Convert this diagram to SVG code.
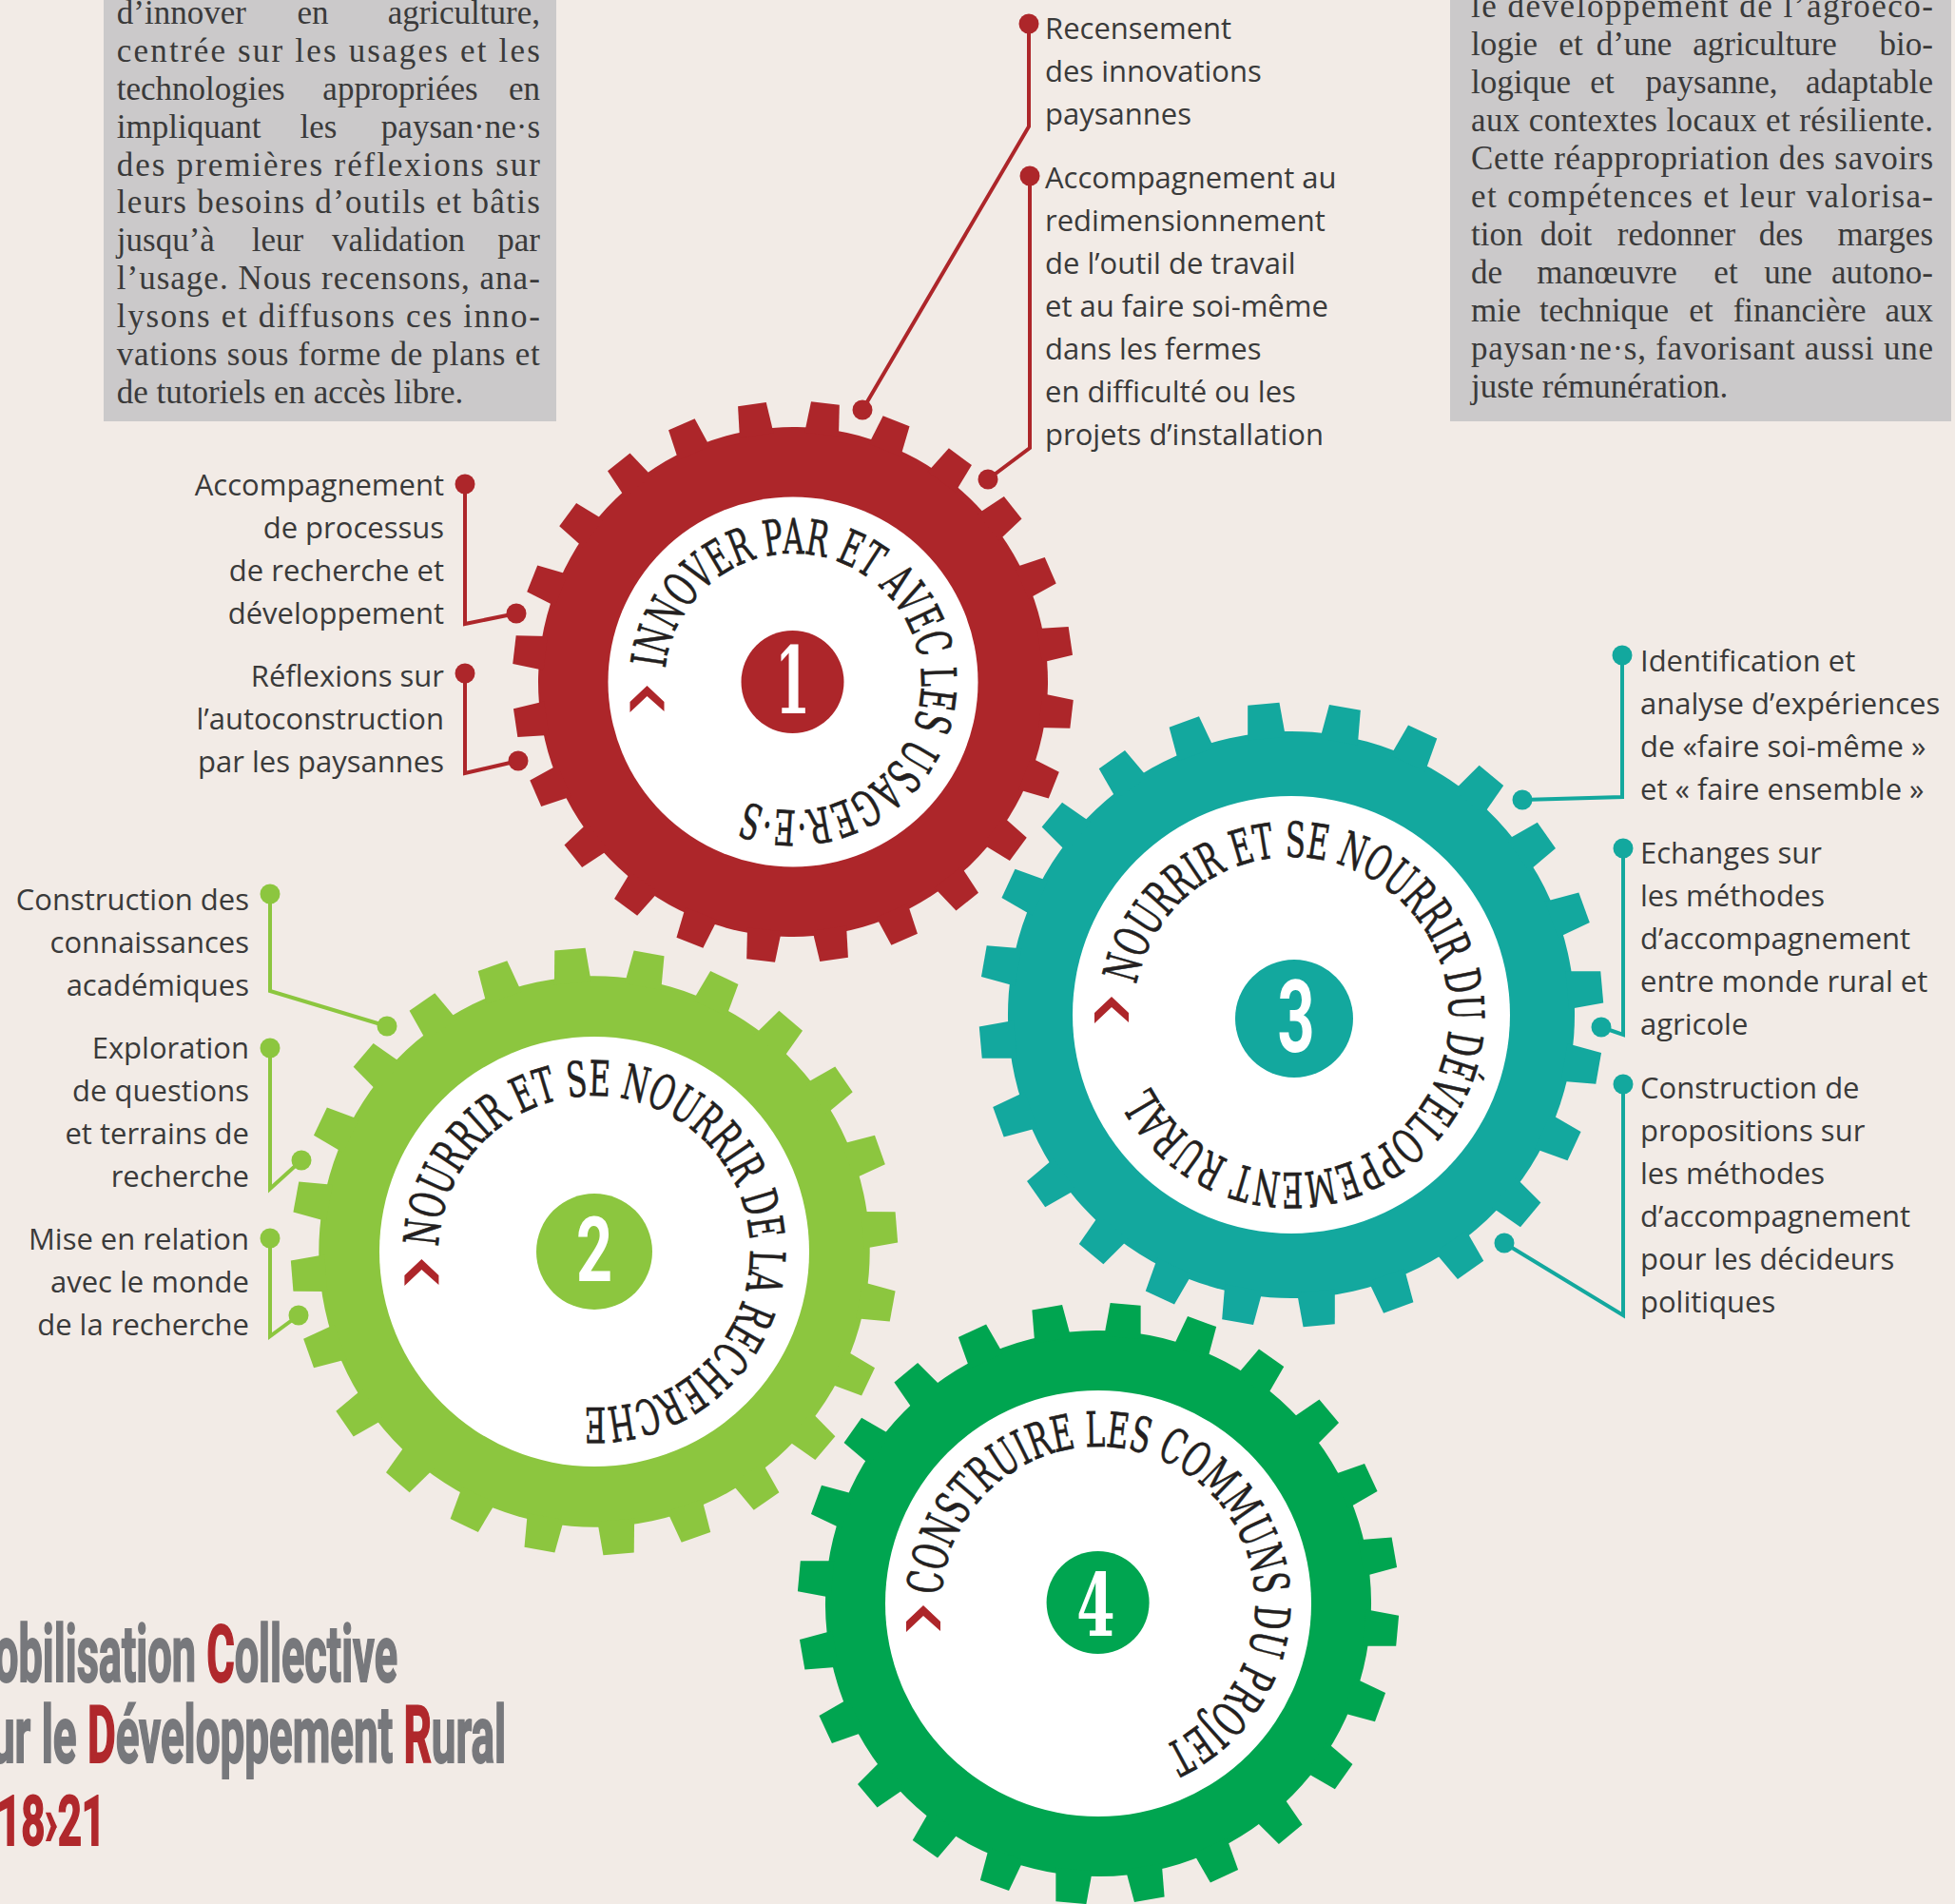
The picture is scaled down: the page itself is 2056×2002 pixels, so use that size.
<svg xmlns="http://www.w3.org/2000/svg" xmlns:xlink="http://www.w3.org/1999/xlink" width="2056" height="2002" viewBox="0 0 2056 2002">
<style>
.bg{fill:#f2ebe6}
.box{fill:#cbc9ca}
.bt{font-family:"Liberation Serif",serif;font-size:35px;fill:#3a3a3a}
.m{text-anchor:middle}
.e{text-anchor:end}
.lb{font-family:"Open Sans","Liberation Sans",sans-serif;font-size:31px;fill:#3a3a3a}
.lbe{text-anchor:end}
.ring{font-family:"DejaVu Serif","Liberation Serif",serif;font-size:51px;fill:#231f20;stroke:#231f20;stroke-width:0.7}
.nums{font-family:"DejaVu Serif","Liberation Serif",serif;font-weight:bold;fill:#fff;text-anchor:middle}
.numx{font-family:Roboto,"Liberation Sans",sans-serif;font-weight:bold;fill:#fff;text-anchor:middle}
.conn{fill:none;stroke-width:4}
.red{stroke:#ad262a}
.grn{stroke:#8cc63f}
.tea{stroke:#13a89e}
.dr{fill:#ad262a}
.dg{fill:#8cc63f}
.dt{fill:#13a89e}
.tt{font-family:Roboto,"Liberation Sans",sans-serif;font-weight:bold;font-size:84px;fill:#77787c;stroke:#77787c;stroke-width:2}
.tt2{font-family:Roboto,"Liberation Sans",sans-serif;font-weight:bold;font-size:73px;fill:#b0282c;stroke:#b0282c;stroke-width:2}
</style>
<defs>
<g id="gearShape">
<circle r="268"/>
<path id="tooth" d="M-18,-262 L18,-262 L15,-295 L-15,-295Z"/>
<use href="#tooth" transform="rotate(15)"/>
<use href="#tooth" transform="rotate(30)"/>
<use href="#tooth" transform="rotate(45)"/>
<use href="#tooth" transform="rotate(60)"/>
<use href="#tooth" transform="rotate(75)"/>
<use href="#tooth" transform="rotate(90)"/>
<use href="#tooth" transform="rotate(105)"/>
<use href="#tooth" transform="rotate(120)"/>
<use href="#tooth" transform="rotate(135)"/>
<use href="#tooth" transform="rotate(150)"/>
<use href="#tooth" transform="rotate(165)"/>
<use href="#tooth" transform="rotate(180)"/>
<use href="#tooth" transform="rotate(195)"/>
<use href="#tooth" transform="rotate(210)"/>
<use href="#tooth" transform="rotate(225)"/>
<use href="#tooth" transform="rotate(240)"/>
<use href="#tooth" transform="rotate(255)"/>
<use href="#tooth" transform="rotate(270)"/>
<use href="#tooth" transform="rotate(285)"/>
<use href="#tooth" transform="rotate(300)"/>
<use href="#tooth" transform="rotate(315)"/>
<use href="#tooth" transform="rotate(330)"/>
<use href="#tooth" transform="rotate(345)"/>
</g>
<polygon id="chev" points="-18,5 0,-12 18,5 18,15 0,-1 -18,16"/>
<path id="p1" d="M699.7,702.9 A135,135 0 1 1 783.4,842.2"/>
<path id="p2" d="M461.1,1311.1 A164,164 0 1 1 613.0,1479.6"/>
<path id="p3" d="M1195.05,1035.3 A166,166 0 1 1 1209.4,1141.1"/>
<path id="p4" d="M990.2,1677.4 A165,165 0 1 1 1222.1,1836.7"/>
</defs>

<rect class="bg" x="0" y="0" width="2056" height="2002"/>

<g id="box-left">
<rect class="box" x="109" y="0" width="476" height="443"/>
<text class="bt" y="25"><tspan x="122.8">d’innover</tspan><tspan class="m" x="329">en</tspan><tspan class="e" x="568">agriculture,</tspan></text>
<text class="bt" x="122.8" y="65" textLength="445" lengthAdjust="spacing">centrée sur les usages et les</text>
<text class="bt" y="105"><tspan x="122.8">technologies</tspan><tspan class="m" x="421">appropriées</tspan><tspan class="e" x="568">en</tspan></text>
<text class="bt" y="145"><tspan x="122.8">impliquant</tspan><tspan class="m" x="335">les</tspan><tspan class="e" x="568">paysan·ne·s</tspan></text>
<text class="bt" x="122.8" y="185" textLength="445" lengthAdjust="spacing">des premières réflexions sur</text>
<text class="bt" x="122.8" y="224" textLength="445" lengthAdjust="spacing">leurs besoins d’outils et bâtis</text>
<text class="bt" y="264"><tspan x="122.8">jusqu’à</tspan><tspan class="m" x="292">leur</tspan><tspan class="m" x="419">validation</tspan><tspan class="e" x="568">par</tspan></text>
<text class="bt" x="122.8" y="304" textLength="445" lengthAdjust="spacing">l’usage. Nous recensons, ana-</text>
<text class="bt" x="122.8" y="344" textLength="445" lengthAdjust="spacing">lysons et diffusons ces inno-</text>
<text class="bt" x="122.8" y="384" textLength="445" lengthAdjust="spacing">vations sous forme de plans et</text>
<text class="bt" x="122.8" y="424">de tutoriels en accès libre.</text>
</g>

<g id="box-right">
<rect class="box" x="1525" y="0" width="527" height="443"/>
<text class="bt" x="1547" y="18" textLength="486" lengthAdjust="spacing">le développement de l’agroéco-</text>
<text class="bt" y="58"><tspan x="1547">logie</tspan><tspan class="m" x="1652">et</tspan><tspan class="m" x="1718.5">d’une</tspan><tspan class="m" x="1856">agriculture</tspan><tspan class="e" x="2033">bio-</tspan></text>
<text class="bt" y="98"><tspan x="1547">logique</tspan><tspan class="m" x="1685">et</tspan><tspan class="m" x="1800">paysanne,</tspan><tspan class="e" x="2033">adaptable</tspan></text>
<text class="bt" x="1547" y="138" textLength="486" lengthAdjust="spacing">aux contextes locaux et résiliente.</text>
<text class="bt" x="1547" y="178" textLength="486" lengthAdjust="spacing">Cette réappropriation des savoirs</text>
<text class="bt" x="1547" y="218" textLength="486" lengthAdjust="spacing">et compétences et leur valorisa-</text>
<text class="bt" y="258"><tspan x="1547">tion</tspan><tspan class="m" x="1647">doit</tspan><tspan class="m" x="1763">redonner</tspan><tspan class="m" x="1873">des</tspan><tspan class="e" x="2033">marges</tspan></text>
<text class="bt" y="298"><tspan x="1547">de</tspan><tspan class="m" x="1690">manœuvre</tspan><tspan class="m" x="1815">et</tspan><tspan class="m" x="1880.5">une</tspan><tspan class="e" x="2033">autono-</tspan></text>
<text class="bt" y="338"><tspan x="1547">mie</tspan><tspan class="m" x="1687">technique</tspan><tspan class="m" x="1789">et</tspan><tspan class="m" x="1892.6">financière</tspan><tspan class="e" x="2033">aux</tspan></text>
<text class="bt" x="1547" y="378" textLength="486" lengthAdjust="spacing">paysan·ne·s, favorisant aussi une</text>
<text class="bt" x="1547" y="418">juste rémunération.</text>
</g>

<g id="gear1">
<use href="#gearShape" transform="translate(834,717) rotate(6.6)" fill="#ad262a"/>
<circle cx="834" cy="717" r="194.5" fill="#ffffff"/>
<circle cx="833.5" cy="717" r="54" fill="#ad262a"/>
<text class="nums" font-size="97" transform="translate(833.5,750) scale(0.55,1)">1</text>
<text class="ring"><textPath href="#p1" textLength="672" lengthAdjust="spacingAndGlyphs">INNOVER PAR ET AVEC LES USAGER·E·S</textPath></text>
<use href="#chev" transform="translate(680.5,733)" fill="#ad262a"/>
</g>

<g id="gear2">
<use href="#gearShape" transform="translate(625,1316) rotate(10.4) scale(1.081)" fill="#8cc63f"/>
<circle cx="625" cy="1316" r="226" fill="#ffffff"/>
<circle cx="625" cy="1316" r="61" fill="#8cc63f"/>
<text class="numx" font-size="95" transform="translate(625,1347) scale(0.7,1)">2</text>
<text class="ring"><textPath href="#p2" textLength="778" lengthAdjust="spacingAndGlyphs">NOURRIR ET SE NOURRIR DE LA RECHERCHE</textPath></text>
<use href="#chev" transform="translate(443.4,1336)" fill="#ad262a"/>
</g>

<g id="gear3">
<use href="#gearShape" transform="translate(1358,1067) rotate(9.9) scale(1.112)" fill="#13a89e"/>
<circle cx="1358" cy="1067" r="230" fill="#ffffff"/>
<circle cx="1361" cy="1071" r="62" fill="#13a89e"/>
<text class="numx" font-size="105" transform="translate(1363,1106) scale(0.65,1)">3</text>
<text class="ring"><textPath href="#p3" textLength="932" lengthAdjust="spacingAndGlyphs">NOURRIR ET SE NOURRIR DU DÉVELOPPEMENT RURAL</textPath></text>
<use href="#chev" transform="translate(1169,1060)" fill="#ad262a"/>
</g>

<g id="gear4">
<use href="#gearShape" transform="translate(1155,1686) rotate(5.2) scale(1.071)" fill="#00a550"/>
<circle cx="1155" cy="1686" r="224" fill="#ffffff"/>
<circle cx="1154.6" cy="1685" r="54" fill="#00a550"/>
<text class="nums" font-size="92" transform="translate(1152.5,1720) scale(0.63,1)">4</text>
<text class="ring"><textPath href="#p4" textLength="698" lengthAdjust="spacingAndGlyphs">CONSTRUIRE LES COMMUNS DU PROJET</textPath></text>
<use href="#chev" transform="translate(971,1700)" fill="#ad262a"/>
</g>

<g id="connectors">
<path class="conn red" d="M1082,25 V133 L907,431"/>
<path class="conn red" d="M1083,185 V471 L1039,504"/>
<path class="conn red" d="M489,509 V656 L543,645"/>
<path class="conn red" d="M489,708 V813 L545,800"/>
<path class="conn grn" d="M284,940 V1042 L407,1079"/>
<path class="conn grn" d="M284,1102 V1250 L317,1220"/>
<path class="conn grn" d="M284,1302 V1405 L314,1383"/>
<path class="conn tea" d="M1706,689 V838 L1601,841"/>
<path class="conn tea" d="M1707,892 V1088 L1684,1080"/>
<path class="conn tea" d="M1707,1140 V1383 L1582,1307"/>
<circle class="dr" cx="1082" cy="25" r="10.5"/>
<circle class="dr" cx="907" cy="431" r="10.5"/>
<circle class="dr" cx="1083" cy="185" r="10.5"/>
<circle class="dr" cx="1039" cy="504" r="10.5"/>
<circle class="dr" cx="489" cy="509" r="10.5"/>
<circle class="dr" cx="543" cy="645" r="10.5"/>
<circle class="dr" cx="489" cy="708" r="10.5"/>
<circle class="dr" cx="545" cy="800" r="10.5"/>
<circle class="dg" cx="284" cy="940" r="10.5"/>
<circle class="dg" cx="407" cy="1079" r="10.5"/>
<circle class="dg" cx="284" cy="1102" r="10.5"/>
<circle class="dg" cx="317" cy="1220" r="10.5"/>
<circle class="dg" cx="284" cy="1302" r="10.5"/>
<circle class="dg" cx="314" cy="1383" r="10.5"/>
<circle class="dt" cx="1706" cy="689" r="10.5"/>
<circle class="dt" cx="1601" cy="841" r="10.5"/>
<circle class="dt" cx="1707" cy="892" r="10.5"/>
<circle class="dt" cx="1684" cy="1080" r="10.5"/>
<circle class="dt" cx="1707" cy="1140" r="10.5"/>
<circle class="dt" cx="1582" cy="1307" r="10.5"/>
</g>

<g id="labels-red-top">
<text class="lb" x="1099" y="41">Recensement</text>
<text class="lb" x="1099" y="86">des innovations</text>
<text class="lb" x="1099" y="131">paysannes</text>
<text class="lb" x="1099" y="198">Accompagnement au</text>
<text class="lb" x="1099" y="243">redimensionnement</text>
<text class="lb" x="1099" y="288">de l’outil de travail</text>
<text class="lb" x="1099" y="333">et au faire soi-même</text>
<text class="lb" x="1099" y="378">dans les fermes</text>
<text class="lb" x="1099" y="423">en difficulté ou les</text>
<text class="lb" x="1099" y="468">projets d’installation</text>
</g>

<g id="labels-red-left">
<text class="lb lbe" x="467" y="521">Accompagnement</text>
<text class="lb lbe" x="467" y="566">de processus</text>
<text class="lb lbe" x="467" y="611">de recherche et</text>
<text class="lb lbe" x="467" y="656">développement</text>
<text class="lb lbe" x="467" y="722">Réflexions sur</text>
<text class="lb lbe" x="467" y="767">l’autoconstruction</text>
<text class="lb lbe" x="467" y="812">par les paysannes</text>
</g>

<g id="labels-green">
<text class="lb lbe" x="262" y="957">Construction des</text>
<text class="lb lbe" x="262" y="1002">connaissances</text>
<text class="lb lbe" x="262" y="1047">académiques</text>
<text class="lb lbe" x="262" y="1113">Exploration</text>
<text class="lb lbe" x="262" y="1158">de questions</text>
<text class="lb lbe" x="262" y="1203">et terrains de</text>
<text class="lb lbe" x="262" y="1248">recherche</text>
<text class="lb lbe" x="262" y="1314">Mise en relation</text>
<text class="lb lbe" x="262" y="1359">avec le monde</text>
<text class="lb lbe" x="262" y="1404">de la recherche</text>
</g>

<g id="labels-teal">
<text class="lb" x="1725" y="706">Identification et</text>
<text class="lb" x="1725" y="751">analyse d’expériences</text>
<text class="lb" x="1725" y="796">de «faire soi-même »</text>
<text class="lb" x="1725" y="841">et « faire ensemble »</text>
<text class="lb" x="1725" y="908">Echanges sur</text>
<text class="lb" x="1725" y="953">les méthodes</text>
<text class="lb" x="1725" y="998">d’accompagnement</text>
<text class="lb" x="1725" y="1043">entre monde rural et</text>
<text class="lb" x="1725" y="1088">agricole</text>
<text class="lb" x="1725" y="1155">Construction de</text>
<text class="lb" x="1725" y="1200">propositions sur</text>
<text class="lb" x="1725" y="1245">les méthodes</text>
<text class="lb" x="1725" y="1290">d’accompagnement</text>
<text class="lb" x="1725" y="1335">pour les décideurs</text>
<text class="lb" x="1725" y="1380">politiques</text>
</g>

<g id="title">
<text class="tt" x="-6" y="1768" textLength="424" lengthAdjust="spacingAndGlyphs">obilisation <tspan fill="#b0282c" stroke="#b0282c">C</tspan>ollective</text>
<text class="tt" x="-10" y="1853" textLength="542" lengthAdjust="spacingAndGlyphs">ur le <tspan fill="#b0282c" stroke="#b0282c">D</tspan>éveloppement <tspan fill="#b0282c" stroke="#b0282c">R</tspan>ural</text>
<text class="tt2" x="-3" y="1940" textLength="114" lengthAdjust="spacingAndGlyphs">18›21</text>
</g>
</svg>
